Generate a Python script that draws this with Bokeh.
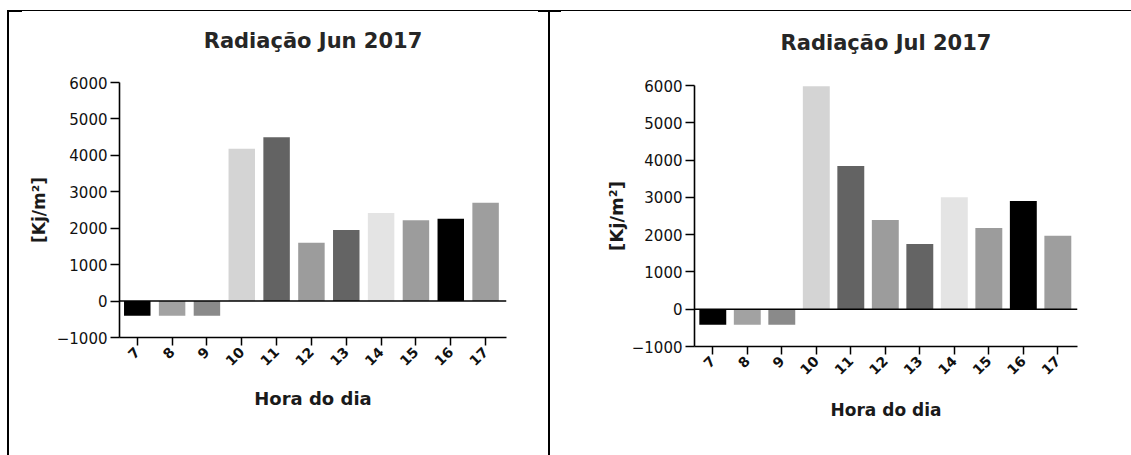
import math
from bokeh.plotting import figure
from bokeh.models import ColumnDataSource, FixedTicker, Span, Range1d
from bokeh.layouts import row, column
from bokeh.embed import file_html
from bokeh.resources import INLINE

# ---- data ----
hours = [7, 8, 9, 10, 11, 12, 13, 14, 15, 16, 17]
hour_labels = ["7", "8", "9", "10", "11", "12", "13", "14", "15", "16", "17"]
jun_values = [-400, -400, -400, 4180, 4500, 1600, 1950, 2420, 2220, 2260, 2700]
jul_values = [-420, -420, -420, 5980, 3840, 2390, 1750, 3000, 2180, 2900, 1970]
bar_colors = ["#000000", "#a2a2a2", "#8a8a8a", "#d4d4d4", "#636363", "#9c9c9c",
              "#646464", "#e4e4e4", "#9c9c9c", "#000000", "#9e9e9e"]
y_ticks = [-1000, 0, 1000, 2000, 3000, 4000, 5000, 6000]
titles = ["Radiação Jun 2017", "Radiação Jul 2017"]
x_title = "Hora do dia"
y_title = "[Kj/m²]"

FONT = "DejaVu Sans"


def make_chart(values, title, width, height, borders, x_start, x_end, bar_w,
               tick_fs, ylab_fs, xlab_fs, ylab_standoff, xlab_standoff, title_standoff,
               css_bg):
    bl, br, bt, bb = borders
    p = figure(width=width, height=height, output_backend="svg", toolbar_location=None,
               x_range=Range1d(x_start, x_end), y_range=Range1d(-1000, 6000),
               min_border_left=bl, min_border_right=br, min_border_top=bt,
               min_border_bottom=bb, title=title,
               styles={"background": css_bg})
    src = ColumnDataSource(dict(x=hours, top=values, color=bar_colors))
    p.vbar(x="x", top="top", bottom=0, width=bar_w, fill_color="color",
           line_color=None, source=src)
    p.add_layout(Span(location=0, dimension="width", line_color="black", line_width=1.6))

    p.title.text_font = FONT
    p.title.text_font_size = "21px"
    p.title.text_font_style = "bold"
    p.title.text_color = "#262626"
    p.title.align = "center"
    p.title.vertical_align = "top"
    p.title.standoff = title_standoff

    p.grid.visible = False
    p.outline_line_color = None
    p.background_fill_color = "white"
    p.border_fill_color = None

    for ax in (p.xaxis[0], p.yaxis[0]):
        ax.axis_line_color = "black"
        ax.axis_line_width = 1.6
        ax.major_tick_line_color = "black"
        ax.major_tick_line_width = 1.5
        ax.major_tick_in = 0
        ax.minor_tick_line_color = None
        ax.major_label_text_font = FONT
        ax.major_label_text_color = "#111111"
        ax.axis_label_text_font = FONT
        ax.axis_label_text_font_style = "bold"
        ax.axis_label_text_color = "#1a1a1a"

    xa = p.xaxis[0]
    xa.ticker = FixedTicker(ticks=hours)
    xa.major_label_overrides = {h: lab for h, lab in zip(hours, hour_labels)}
    xa.major_label_orientation = math.pi / 4
    xa.major_tick_out = 8
    xa.major_label_standoff = 4
    xa.major_label_text_font_size = "14px"
    xa.major_label_text_font_style = "bold"
    xa.axis_label = x_title
    xa.axis_label_text_font_size = xlab_fs
    xa.axis_label_standoff = xlab_standoff

    ya = p.yaxis[0]
    ya.ticker = FixedTicker(ticks=y_ticks)
    ya.major_tick_out = 9
    ya.major_label_standoff = 3
    ya.major_label_text_font_size = tick_fs
    ya.axis_label = y_title
    ya.axis_label_text_font_size = ylab_fs
    ya.axis_label_standoff = ylab_standoff
    return p


K = "linear-gradient(#000,#000)"
bg_left = ", ".join([
    f"{K} 7px 10px / 2px 100% no-repeat",
    f"{K} 7px 10px / 100% 1px no-repeat",
    f"{K} 7px 10px / 15px 2px no-repeat",
    f"{K} 538px 10px / 10px 2px no-repeat",
    "white",
])
bg_right = ", ".join([
    f"{K} 0px 10px / 2px 100% no-repeat",
    f"{K} 0px 10px / 100% 1px no-repeat",
    f"{K} 0px 10px / 13px 2px no-repeat",
    "white",
])

p1 = make_chart(jun_values, titles[0], 548, 455, (119, 42, 82, 118), 6.49, 17.6, 0.76,
                "15px", "17px", "18px", 5, 15, 56, bg_left)
p2 = make_chart(jul_values, titles[1], 583, 455, (146, 54, 85, 109), 6.47, 17.57, 0.78,
                "15px", "18px", "17px", 2, 18, 58, bg_right)

layout = row(column(p1), column(p2), spacing=0)
open("out.html", "w").write(file_html(layout, INLINE))
